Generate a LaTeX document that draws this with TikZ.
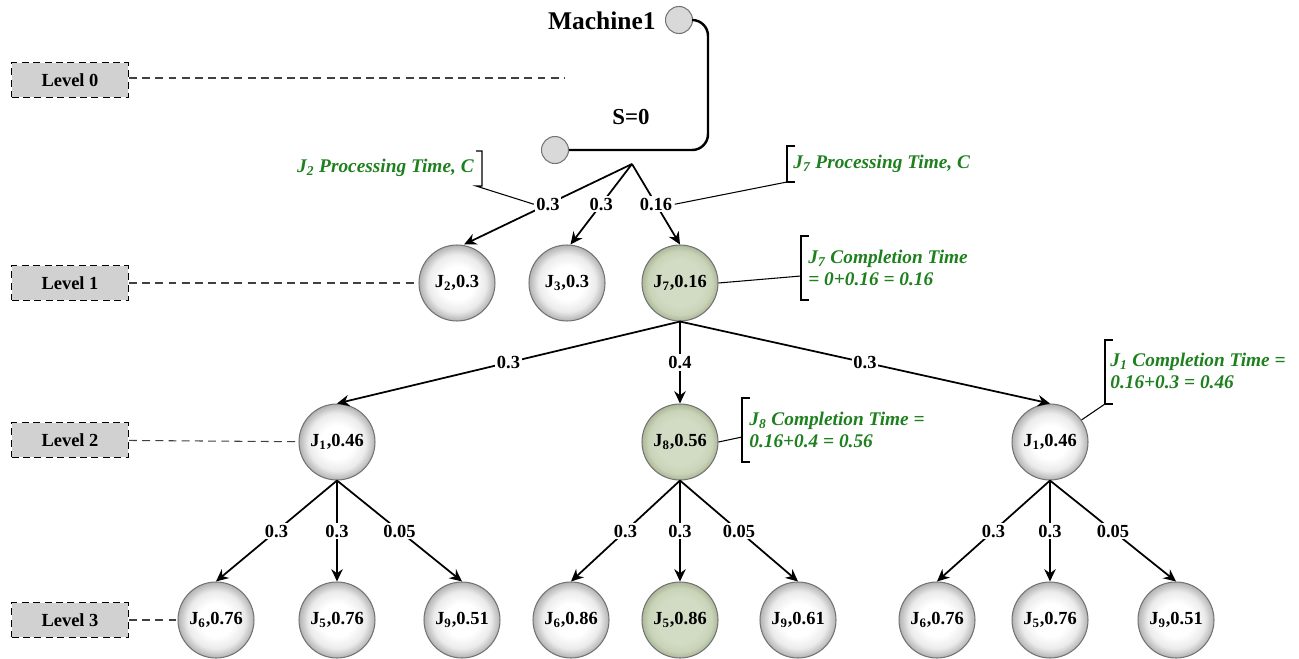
\documentclass[tikz,border=0pt]{standalone}
\usepackage{fontspec}
\setmainfont{Liberation Serif}
\usetikzlibrary{arrows.meta}
\definecolor{anng}{RGB}{30,128,30}
\definecolor{gin}{RGB}{210,220,196}
\definecolor{gmid}{RGB}{200,211,184}
\definecolor{gout}{RGB}{172,184,152}
\pgfdeclareradialshading{ballgray}{\pgfpoint{0bp}{0bp}}{color(0bp)=(white); color(11bp)=(white); color(19bp)=(black!8); color(25bp)=(black!30); color(50bp)=(black!30)}
\pgfdeclareradialshading{ballgreen}{\pgfpoint{0bp}{0bp}}{color(0bp)=(gin); color(15bp)=(gin); color(21bp)=(gmid); color(25bp)=(gout); color(50bp)=(gout)}
\begin{document}
\begin{tikzpicture}[x=0.02cm,y=-0.02cm,
 ball/.style={circle, draw=black!55, line width=0.6pt, minimum size=1.52cm, inner sep=0pt,
   shade, shading=ballgray, font=\bfseries\fontsize{10.5}{12}\selectfont},
 gball/.style={ball, shading=ballgreen},
 small/.style={circle, draw=black!55, line width=0.6pt, fill=black!15, minimum size=0.54cm, inner sep=0pt},
 lvl/.style={draw, dash pattern=on 4pt off 2.5pt, line width=0.6pt, fill=black!18, minimum width=2.34cm, minimum height=0.69cm,
   inner sep=0pt, font=\bfseries\fontsize{10.5}{12}\selectfont},
 edge/.style={line width=1pt, -{Stealth[length=7pt,width=6.5pt]}},
 lab/.style={fill=white, inner sep=1pt, font=\bfseries\fontsize{10.5}{12}\selectfont},
 ann/.style={text=anng, font=\bfseries\itshape\fontsize{11}{13}\selectfont, align=left, inner sep=0pt},
 leader/.style={line width=0.6pt},
 lvline/.style={dash pattern=on 4.5pt off 3pt, black!75, line width=0.6pt}
]
\useasboundingbox (0,0) rectangle (1299,659);

% level boxes
\node[lvl] (L0) at (70,80) {Level 0};
\node[lvl] (L1) at (70,283) {Level 1};
\node[lvl] (L2) at (70,440) {Level 2};
\node[lvl] (L3) at (70,620) {Level 3};

% machine
\node[small] (M1) at (679,20) {};
\node[small] (S0c) at (555,150) {};
\node[anchor=east, font=\bfseries\fontsize{14.5}{16}\selectfont, inner sep=0pt] (mt) at (656,21) {Machine1};
\node[font=\bfseries\fontsize{13}{15}\selectfont] (s0) at (631,117) {S=0};
\coordinate (c1) at (708,20);
\coordinate (c2) at (708,150);
\draw[line width=1.4pt, rounded corners=9pt] (M1.east) -- (c1) -- (c2) -- (S0c.east);

% level 1
\node[ball] (J2) at (457,283) {J\textsubscript{2},0.3};
\node[ball] (J3) at (567,283) {J\textsubscript{3},0.3};
\node[gball] (J7) at (680,283) {J\textsubscript{7},0.16};
\coordinate (b0) at (632,164);
\draw[edge] (b0) -- node[lab] (la) {0.3} ([xshift=4pt]J2.north);
\draw[edge] (b0) -- node[lab] (lb) {0.3} ([xshift=2pt]J3.north);
\draw[edge] (b0) -- node[lab] (lc) {0.16} (J7.north);

% level 2
\node[ball] (A1) at (337,442) {J\textsubscript{1},0.46};
\node[gball] (A2) at (680,442) {J\textsubscript{8},0.56};
\node[ball] (A3) at (1050,442) {J\textsubscript{1},0.46};
\draw[edge] (J7.south) -- node[lab] {0.3} (A1.north);
\draw[edge] (J7.south) -- node[lab] {0.4} (A2.north);
\draw[edge] (J7.south) -- node[lab] {0.3} (A3.north);

% level 3
\node[ball] (C1) at (216,620) {J\textsubscript{6},0.76};
\node[ball] (C2) at (337,620) {J\textsubscript{5},0.76};
\node[ball] (C3) at (462,620) {J\textsubscript{9},0.51};
\node[ball] (C4) at (571,620) {J\textsubscript{6},0.86};
\node[gball] (C5) at (680,620) {J\textsubscript{5},0.86};
\node[ball] (C6) at (798,620) {J\textsubscript{9},0.61};
\node[ball] (C7) at (937,620) {J\textsubscript{6},0.76};
\node[ball] (C8) at (1050,620) {J\textsubscript{5},0.76};
\node[ball] (C9) at (1176,620) {J\textsubscript{9},0.51};
\foreach \p/\a/\b/\c in {A1/C1/C2/C3, A2/C4/C5/C6, A3/C7/C8/C9}{
  \draw[edge] (\p.south) -- node[lab] {0.3} (\a.north);
  \draw[edge] (\p.south) -- node[lab] {0.3} (\b.north);
  \draw[edge] (\p.south) -- node[lab] {0.05} (\c.north);
}

% level lines
\coordinate (L0end) at (565,78);
\draw[lvline] (L0.east |- L0end) -- (L0end);
\draw[lvline] (L1) -- (J2);
\draw[lvline] (L2) -- (A1);
\draw[lvline] (L3) -- (C1);

% annotations
\node[ann, anchor=east] (t1) at (474,168) {J\textsubscript{2} Processing Time, C};
\coordinate (p1a) at (476,151); \coordinate (p1b) at (482,151);
\coordinate (p1c) at (482,186); \coordinate (p1d) at (476,186);
\draw[leader] (p1a) -- (p1b) -- (p1c) -- (p1d) -- (la.west);

\node[ann, anchor=west] (t2) at (793,164) {J\textsubscript{7} Processing Time, C};
\coordinate (p2a) at (795,146); \coordinate (p2b) at (787,146);
\coordinate (p2c) at (787,182); \coordinate (p2d) at (795,182);
\draw[leader] (p2a) -- (p2b) -- (p2c) -- (p2d);
\draw[leader] (p2c) -- (lc.east);

\node[ann, anchor=west] (t3) at (808,268) {J\textsubscript{7} Completion Time\\= 0+0.16 = 0.16};
\coordinate (p3a) at (809,236); \coordinate (p3b) at (801,236);
\coordinate (p3c) at (801,300); \coordinate (p3d) at (809,300);
\coordinate (p3m) at (801,276);
\draw[leader] (p3a) -- (p3b) -- (p3c) -- (p3d);
\draw[leader] (J7.east) -- (p3m);

\node[ann, anchor=west] (t4) at (749,430) {J\textsubscript{8} Completion Time =\\0.16+0.4 = 0.56};
\coordinate (p4a) at (750,398); \coordinate (p4b) at (742,398);
\coordinate (p4c) at (742,462); \coordinate (p4d) at (750,462);
\coordinate (p4m) at (742,437);
\draw[leader] (p4a) -- (p4b) -- (p4c) -- (p4d);
\draw[leader] (A2.east) -- (p4m);

\node[ann, anchor=west] (t5) at (1110,371) {J\textsubscript{1} Completion Time =\\0.16+0.3 = 0.46};
\coordinate (p5a) at (1113,340); \coordinate (p5b) at (1105,340);
\coordinate (p5c) at (1105,404); \coordinate (p5d) at (1113,404);
\draw[leader] (p5a) -- (p5b) -- (p5c) -- (p5d);
\draw[leader] (A3.35) -- (p5c);
\end{tikzpicture}
\end{document}
